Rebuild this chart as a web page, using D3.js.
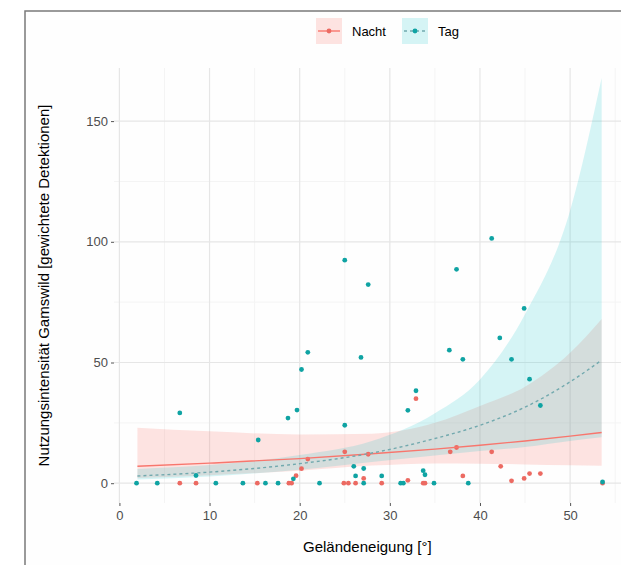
<!DOCTYPE html>
<html>
<head>
<meta charset="utf-8">
<script src="https://cdn.jsdelivr.net/npm/d3@7"></script>
<style>
  body { margin: 0; background: #fff; }
  svg { display: block; font-family: "Liberation Sans", Arial, sans-serif; }
</style>
</head>
<body>
<svg id="chart" width="621" height="565"></svg>
<script>
// observations: slope in degrees and weighted detections
const tagSlope = [1.9, 4.2, 10.7, 13.7, 16.2, 17.6, 22.2, 27.1, 31.2, 31.5, 34.9, 38.7, 53.6,
    6.7, 8.5, 15.4, 18.7, 19.7, 20.2, 20.9, 19.3, 25.0, 27.6, 26.8, 25.0, 26.0, 27.1, 26.2,
    29.1, 32.0, 32.9, 33.7, 33.9, 36.6, 37.4, 38.1, 41.3, 42.2, 43.5, 44.9, 45.5, 46.7];
const tagCount = [0, 0, 0, 0, 0, 0, 0, 0, 0, 0, 0, 0, 0.5,
    29.1, 3.2, 17.9, 27.0, 30.3, 47.1, 54.2, 1.8, 92.4, 82.3, 52.1, 24.0, 7.0, 6.1, 3.0,
    3.0, 30.2, 38.3, 5.2, 3.5, 55.1, 88.6, 51.3, 101.4, 60.2, 51.3, 72.4, 43.1, 32.2];

const nachtSlope = [6.7, 8.5, 15.3, 18.8, 19.1, 24.9, 25.4, 26.2, 29.1, 33.7, 33.9, 53.6,
    19.6, 20.2, 20.9, 25.0, 27.6, 27.1, 32.0, 32.9, 36.7, 37.4, 38.1, 41.3, 42.3, 43.5,
    44.9, 45.5, 46.7];
const nachtCount = [0, 0, 0, 0, 0, 0, 0, 0, 0, 0, 0, 0,
    3.1, 6.0, 10.0, 13.0, 12.0, 2.0, 1.2, 35.0, 13.0, 14.8, 3.0, 13.0, 7.0, 1.0,
    2.0, 4.0, 4.0];

// fitted curves and confidence bands
const fitSlope = [2, 10, 20, 28, 35, 40, 45, 50, 53.5];
const nachtFit = [7, 8.3, 10.2, 12.2, 14.1, 15.7, 17.5, 19.5, 21];
const nachtLow = [2.2, 3.3, 5.2, 7.3, 8.2, 8.1, 7.8, 7.4, 7.2];
const nachtHigh = [23, 21.5, 20.2, 20.5, 25, 32, 40, 54, 68];
const tagFit = [3, 4.6, 8.1, 12.5, 18.5, 24, 31.5, 42, 51];
const tagLow = [1.5, 2.8, 5.6, 8.8, 11.5, 13.3, 15, 17.5, 19];
const tagHigh = [5.9, 7.5, 11.7, 17.5, 29, 43, 70, 113, 168];

const xTicks = [0, 10, 20, 30, 40, 50];
const xMinor = [5, 15, 25, 35, 45, 55];
const yTicks = [0, 50, 100, 150];
const yMinor = [25, 75, 125];

const groups = ["Nacht", "Tag"];
const colors = { Nacht: "#F8766D", Tag: "#00BFC4" };
const pointColors = { Nacht: "#ec6a62", Tag: "#0fa3a3" };
const bandOpacity = { Nacht: 0.2, Tag: 0.16 };

class SlopeChart {
    constructor(_config) {
        this.config = {
            parentElement: _config.parentElement,
            left: 114, right: 626, top: 68, bottom: 503
        };
        this.initVis();
    }

    initVis() {
        let vis = this;
        vis.svg = d3.select(vis.config.parentElement);

        //outer frame of the figure
        vis.svg.append("rect")
            .attr("x", 25).attr("y", 11)
            .attr("width", 700).attr("height", 700)
            .attr("fill", "#fefefe")
            .attr("stroke", "#7a7a7a")
            .attr("stroke-width", 1.5);

        vis.x = d3.scaleLinear().domain([-0.6, 56.2]).range([vis.config.left, vis.config.right]);
        vis.y = d3.scaleLinear().domain([-8.2, 172]).range([vis.config.bottom, vis.config.top]);

        vis.renderVis();
    }

    renderVis() {
        let vis = this;
        const c = vis.config;
        const grid = vis.svg.append("g");

        //minor grid first, then major
        grid.selectAll(".xminor").data(xMinor).join("line")
            .attr("x1", d => vis.x(d)).attr("x2", d => vis.x(d))
            .attr("y1", c.top).attr("y2", c.bottom)
            .attr("stroke", "#f4f4f4").attr("stroke-width", 1);
        grid.selectAll(".yminor").data(yMinor).join("line")
            .attr("y1", d => vis.y(d)).attr("y2", d => vis.y(d))
            .attr("x1", c.left).attr("x2", c.right)
            .attr("stroke", "#f4f4f4").attr("stroke-width", 1);
        grid.selectAll(".xmajor").data(xTicks).join("line")
            .attr("x1", d => vis.x(d)).attr("x2", d => vis.x(d))
            .attr("y1", c.top).attr("y2", c.bottom)
            .attr("stroke", "#e6e6e6").attr("stroke-width", 1.2);
        grid.selectAll(".ymajor").data(yTicks).join("line")
            .attr("y1", d => vis.y(d)).attr("y2", d => vis.y(d))
            .attr("x1", c.left).attr("x2", c.right)
            .attr("stroke", "#e6e6e6").attr("stroke-width", 1.2);

        //axes with small ticks, no domain line
        const xAxis = d3.axisBottom(vis.x).tickValues(xTicks).tickSize(3).tickPadding(5);
        const yAxis = d3.axisLeft(vis.y).tickValues(yTicks).tickSize(3).tickPadding(3);

        vis.svg.append("g")
            .attr("transform", `translate(0,${c.bottom})`)
            .call(xAxis)
            .call(g => g.select(".domain").remove())
            .call(g => g.selectAll("line").attr("stroke", "#555"))
            .call(g => g.selectAll("text").attr("fill", "#4d4d4d")
                .style("font-size", "13px").style("font-family", "Liberation Sans, Arial, sans-serif"));

        vis.svg.append("g")
            .attr("transform", `translate(${c.left},0)`)
            .call(yAxis)
            .call(g => g.select(".domain").remove())
            .call(g => g.selectAll("line").attr("stroke", "#555"))
            .call(g => g.selectAll("text").attr("fill", "#4d4d4d")
                .style("font-size", "13px").style("font-family", "Liberation Sans, Arial, sans-serif"));

        //axis titles
        vis.svg.append("text")
            .attr("x", vis.x(27.5)).attr("y", 552)
            .attr("text-anchor", "middle")
            .style("font-size", "15px")
            .text("Geländeneigung [°]");
        vis.svg.append("text")
            .attr("transform", `translate(49,${(c.top + c.bottom) / 2}) rotate(-90)`)
            .attr("text-anchor", "middle")
            .style("font-size", "15px")
            .text("Nutzungsintensität Gamswild [gewichtete Detektionen]");

        //confidence bands
        const band = (lo, hi) => d3.area()
            .x((d, i) => vis.x(fitSlope[i]))
            .y0((d, i) => vis.y(lo[i]))
            .y1((d, i) => vis.y(hi[i]))
            .curve(d3.curveMonotoneX);
        const line = (vals) => d3.line()
            .x((d, i) => vis.x(fitSlope[i]))
            .y((d, i) => vis.y(vals[i]))
            .curve(d3.curveMonotoneX);

        vis.svg.append("path")
            .attr("d", band(nachtLow, nachtHigh)(fitSlope))
            .attr("fill", colors.Nacht).attr("fill-opacity", bandOpacity.Nacht);
        vis.svg.append("path")
            .attr("d", band(tagLow, tagHigh)(fitSlope))
            .attr("fill", colors.Tag).attr("fill-opacity", bandOpacity.Tag);

        //points
        const pts = vis.svg.append("g");
        pts.selectAll(".nacht").data(nachtSlope).join("circle")
            .attr("cx", d => vis.x(d))
            .attr("cy", (d, i) => vis.y(nachtCount[i]))
            .attr("r", 2.4)
            .attr("fill", pointColors.Nacht);
        pts.selectAll(".tag").data(tagSlope).join("circle")
            .attr("cx", d => vis.x(d))
            .attr("cy", (d, i) => vis.y(tagCount[i]))
            .attr("r", 2.4)
            .attr("fill", pointColors.Tag);

        //fitted lines
        vis.svg.append("path")
            .attr("d", line(nachtFit)(fitSlope))
            .attr("fill", "none").attr("stroke", colors.Nacht).attr("stroke-width", 1.4);
        vis.svg.append("path")
            .attr("d", line(tagFit)(fitSlope))
            .attr("fill", "none").attr("stroke", "#72a9ae").attr("stroke-width", 1.4)
            .attr("stroke-dasharray", "3,3");

        //legend
        const legend = vis.svg.append("g").attr("transform", "translate(316,18)");
        const items = legend.selectAll("g").data(groups).join("g")
            .attr("transform", (d, i) => `translate(${i * 86},0)`);
        items.append("rect")
            .attr("width", 26).attr("height", 26)
            .attr("fill", d => colors[d]).attr("fill-opacity", d => bandOpacity[d]);
        items.append("line")
            .attr("x1", 2).attr("x2", 24).attr("y1", 13).attr("y2", 13)
            .attr("stroke", d => d === "Tag" ? "#72a9ae" : colors[d])
            .attr("stroke-width", 1.4)
            .attr("stroke-dasharray", d => d === "Tag" ? "3,3" : null);
        items.append("circle")
            .attr("cx", 13).attr("cy", 13).attr("r", 2.4)
            .attr("fill", d => pointColors[d]);
        items.append("text")
            .attr("x", 36).attr("y", 18)
            .style("font-size", "13px")
            .text(d => d);
    }
}

let chart = new SlopeChart({ parentElement: "#chart" });
</script>
</body>
</html>
